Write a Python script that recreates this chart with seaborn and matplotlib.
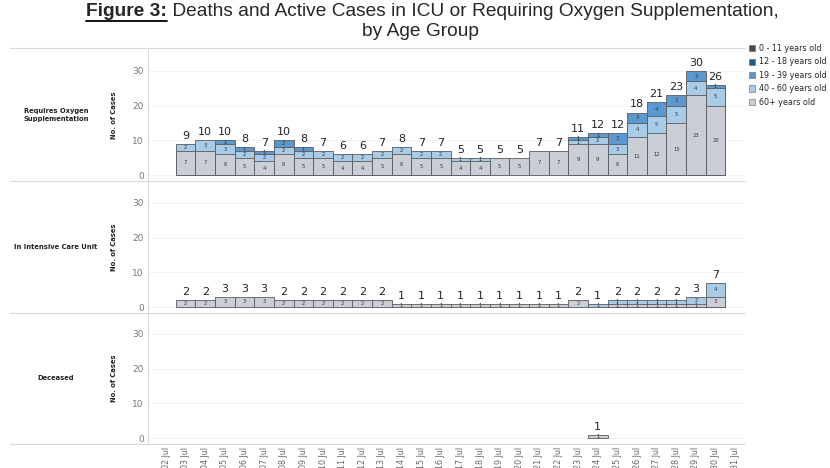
import numpy as np
import pandas as pd
import seaborn as sns
import matplotlib.pyplot as plt
from matplotlib.lines import Line2D
from matplotlib.patches import Patch

# x axis categories (02 Jul .. 31 Jul), bars exist for 03 Jul .. 30 Jul
dates = [f'{d:02d} Jul' for d in range(2, 32)]
bar_dates = dates[1:29]

age_groups = ['0 - 11 years old', '12 - 18 years old', '19 - 39 years old',
              '40 - 60 years old', '60+ years old']
group_colors = ['#4b4b4b', '#1f5c8b', '#5a98cf', '#a8cbe8', '#c9ced7']

# Requires Oxygen Supplementation
oxy_0_11 = [0] * 28
oxy_12_18 = [0] * 28
oxy_19_39 = [0, 0, 1, 1, 1, 2, 1, 0, 0, 0, 0, 0, 0, 0, 0, 0, 0, 0, 0, 0, 1, 1, 3, 3, 4, 3, 3, 1]
oxy_40_60 = [2, 3, 3, 2, 2, 2, 2, 2, 2, 2, 2, 2, 2, 2, 1, 1, 0, 0, 0, 0, 1, 2, 3, 4, 5, 5, 4, 5]
oxy_60 = [7, 7, 6, 5, 4, 6, 5, 5, 4, 4, 5, 6, 5, 5, 4, 4, 5, 5, 7, 7, 9, 9, 6, 11, 12, 15, 23, 20]

# In Intensive Care Unit
icu_0_11 = [0] * 28
icu_12_18 = [0] * 28
icu_19_39 = [0] * 28
icu_40_60 = [0] * 21 + [1, 1, 1, 1, 1, 2, 4]
icu_60 = [2, 2, 3, 3, 3, 2, 2, 2, 2, 2, 2, 1, 1, 1, 1, 1, 1, 1, 1, 1, 2, 0, 1, 1, 1, 1, 1, 3]

# Deceased
dec_0_11 = [0] * 28
dec_12_18 = [0] * 28
dec_19_39 = [0] * 28
dec_40_60 = [0] * 28
dec_60 = [0] * 21 + [1] + [0] * 6

panels = [
    ('Requires Oxygen\nSupplementation', [oxy_0_11, oxy_12_18, oxy_19_39, oxy_40_60, oxy_60]),
    ('In Intensive Care Unit', [icu_0_11, icu_12_18, icu_19_39, icu_40_60, icu_60]),
    ('Deceased', [dec_0_11, dec_12_18, dec_19_39, dec_40_60, dec_60]),
]

sns.set_style('white')
plt.rcParams['font.family'] = ['DejaVu Sans']

W, H = 830, 468
fig = plt.figure(figsize=(W / 100, H / 100), dpi=100)

left_px, right_px = 148, 745
rows_px = [(50, 180), (182, 312), (313, 443)]
line_c = '#d9d9d9'


def draw_panel(ax, series):
    vals = np.array(series)          # rows: 0-11 .. 60+
    cum = np.cumsum(vals[::-1], axis=0)[::-1]   # cumulative from 60+ upward
    # draw from the top level down so lower levels cover the bottoms
    for lvl in range(len(age_groups)):
        df = pd.DataFrame({'date': bar_dates, 'val': vals[lvl], 'cum': cum[lvl]})
        df = df[df['val'] > 0]
        if df.empty:
            continue
        sns.barplot(data=df, x='date', y='cum', order=dates, color=group_colors[lvl],
                    saturation=1, width=1.0, edgecolor='#5a5a5a', linewidth=0.6,
                    errorbar=None, ax=ax)
    totals = vals.sum(axis=0)
    for i, d in enumerate(bar_dates):
        xpos = dates.index(d)
        if totals[i] > 0:
            ax.text(xpos, totals[i] + 0.9, str(totals[i]), ha='center', va='bottom',
                    fontsize=8, color='#222222')
        base = 0
        for lvl in range(len(age_groups) - 1, -1, -1):
            v = vals[lvl][i]
            if v > 0:
                ax.text(xpos, base + v / 2, str(v), ha='center', va='center',
                        fontsize=3.8, color='#333333')
                base += v


axes = []
for k, (label, series) in enumerate(panels):
    top, bot = rows_px[k]
    ax = fig.add_axes([left_px / W, 1 - bot / H, (right_px - left_px) / W, (bot - top) / H])
    draw_panel(ax, series)
    ax.set_xlim(-0.92, 29.5)
    ax.set_ylim(-1.4, 36)
    ax.set_yticks([0, 10, 20, 30])
    ax.set_yticklabels(['0', '10', '20', '30'])
    ax.tick_params(axis='y', length=2, width=0.6, labelsize=6.5, colors='#777777', pad=1)
    ax.yaxis.grid(True, color='#f1f1f1', linewidth=0.6)
    ax.set_axisbelow(True)
    for s in ['top', 'right', 'bottom']:
        ax.spines[s].set_visible(False)
    ax.spines['left'].set_color(line_c)
    ax.spines['left'].set_linewidth(0.7)
    ax.set_xlabel('')
    ax.set_ylabel('No. of Cases', fontsize=4.9, fontweight='bold', color='#222222')
    ax.yaxis.set_label_coords(-0.052, 0.5)
    mid = 1 - (top + bot) / 2 / H
    fig.text(56 / W, mid, label, ha='center', va='center', fontsize=4.9,
             fontweight='bold', color='#222222', linespacing=1.6)
    if k < 2:
        ax.set_xticks([])
    else:
        ax.set_xticks(range(len(dates)))
        ax.set_xticklabels(dates, rotation=90)
        ax.tick_params(axis='x', length=2, width=0.6, labelsize=5.8, colors='#666666', pad=1)
    axes.append(ax)

# row separators
for ypx in [48, 181, 312.5, 443.5]:
    fig.add_artist(Line2D([10 / W, right_px / W], [1 - ypx / H, 1 - ypx / H],
                          color=line_c, linewidth=0.8))

# title
fig.canvas.draw()
renderer = fig.canvas.get_renderer()
title_font = ['Liberation Sans', 'DejaVu Sans']
t1 = fig.text(0, 1 - 12 / H, 'Figure 3:', fontsize=13.8, fontweight='bold',
              family=title_font, va='center', ha='left')
t2 = fig.text(0, 1 - 12 / H, ' Deaths and Active Cases in ICU or Requiring Oxygen Supplementation,',
              fontsize=13.8, family=title_font, va='center', ha='left')
w1 = t1.get_window_extent(renderer).width
w2 = t2.get_window_extent(renderer).width
x0 = (432 - (w1 + w2) / 2)
t1.set_x(x0 / W)
t2.set_x((x0 + w1) / W)
fig.add_artist(Line2D([x0 / W, (x0 + w1) / W], [1 - 21 / H, 1 - 21 / H],
                      color='black', linewidth=1.3))
fig.text(420 / W, 1 - 32 / H, 'by Age Group', fontsize=13.8, family=title_font,
         ha='center', va='center')

# legend
handles = [Patch(facecolor=c, edgecolor='#666666', linewidth=0.4, label=g)
           for g, c in zip(age_groups, group_colors)]
fig.legend(handles=handles, loc='upper left', bbox_to_anchor=(749 / W, 1 - 44 / H),
           frameon=False, fontsize=5.8, handlelength=0.8, handleheight=0.8,
           handletextpad=0.4, labelspacing=0.55, borderaxespad=0, borderpad=0)

fig.savefig('out.png', dpi=100)
